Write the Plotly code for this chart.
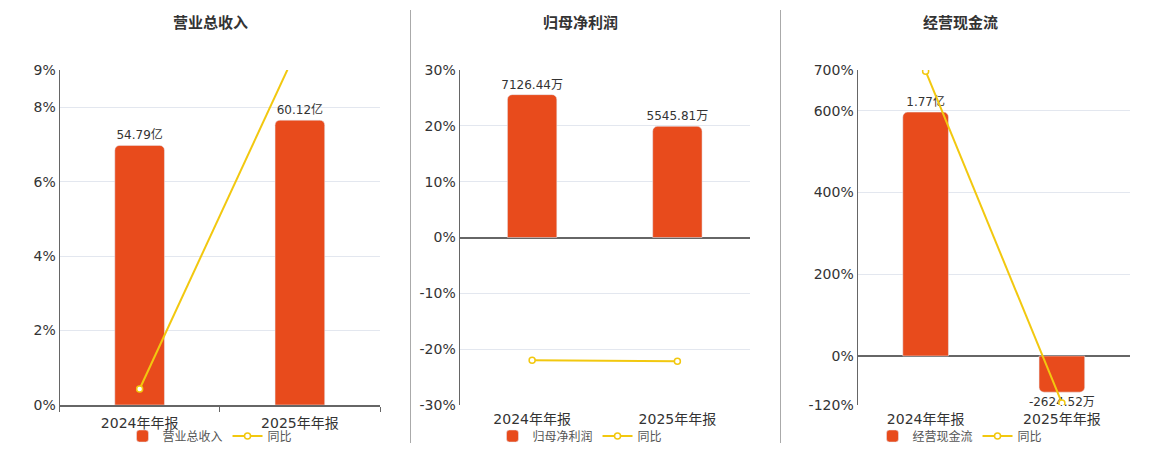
import plotly.graph_objects as go

# data
periods = ['2024年年报', '2025年年报']

revenue = [54.79, 60.12]            # 亿
revenue_labels = ['54.79亿', '60.12亿']
revenue_yoy = [0.43, 9.73]          # %

profit = [7126.44, 5545.81]         # 万
profit_labels = ['7126.44万', '5545.81万']
profit_yoy = [-22.0, -22.18]

cashflow = [1.77, -0.262452]        # 亿
cashflow_labels = ['1.77亿', '-2624.52万']
cashflow_yoy = [697.0, -114.8]

titles = ['营业总收入', '归母净利润', '经营现金流']
pct_ticks = [[0, 2, 4, 6, 8, 9], [-30, -20, -10, 0, 10, 20, 30], [-120, 0, 200, 400, 600, 700]]
pct_ranges = [[0, 9], [-30, 30], [-120, 700]]
bar_ranges = [[0, 70.7], [-8355, 8355], [-0.3558, 2.0755]]

BAR_COLOR = '#E84B1C'
LINE_COLOR = '#F2C80F'
FONT = 'DejaVu Sans, Noto Sans CJK SC, sans-serif'
W, H = 1160, 450

x_domains = [[59.5 / W, 380 / W], [459.5 / W, 750 / W], [857.5 / W, 1130 / W]]
y_domain = [1 - 405 / H, 1 - 70 / H]
title_x = [210, 580, 960]
bar_widths = [0.31, 0.34, 0.335]

fig = go.Figure()
layout = {}

panels = [
    (revenue, revenue_labels, revenue_yoy),
    (profit, profit_labels, profit_yoy),
    (cashflow, cashflow_labels, cashflow_yoy),
]

for i, (vals, labels, yoy) in enumerate(panels):
    n = i + 1
    xa = 'x' if n == 1 else f'x{n}'
    ya_bar = 'y' if n == 1 else f'y{n}'
    ya_pct = f'y{n + 3}'
    leg = 'legend' if n == 1 else f'legend{n}'

    fig.add_trace(go.Bar(
        x=periods, y=vals, name=titles[i], xaxis=xa, yaxis=ya_bar,
        marker=dict(color=BAR_COLOR, cornerradius=5),
        width=bar_widths[i],
        text=labels, textposition='outside', cliponaxis=False,
        constraintext='none',
        textfont=dict(size=12, color='#333'),
        legend=leg, hoverinfo='skip'
    ))
    fig.add_trace(go.Scatter(
        x=periods, y=yoy, name='同比', xaxis=xa, yaxis=ya_pct,
        mode='lines+markers',
        line=dict(color=LINE_COLOR, width=2),
        marker=dict(size=6, color='white', line=dict(color=LINE_COLOR, width=1.5)),
        legend=leg
    ))

    key = 'xaxis' if n == 1 else f'xaxis{n}'
    layout[key] = dict(
        domain=x_domains[i], anchor=ya_bar,
        type='category', categoryorder='array', categoryarray=periods,
        showline=(n == 1), linecolor='#666', linewidth=2,
        ticks='outside' if n == 1 else '', tickson='boundaries', ticklen=5,
        tickcolor='#666', showgrid=False, zeroline=False,
        tickfont=dict(size=14, color='#333'), ticklabelstandoff=4,
    )
    # hidden value axis for the bars; its zero line marks the 0% baseline
    layout['yaxis' if n == 1 else f'yaxis{n}'] = dict(
        domain=y_domain, anchor=xa, range=bar_ranges[i],
        showticklabels=False, showgrid=False, showline=False,
        zeroline=(n > 1), zerolinecolor='#666', zerolinewidth=2,
    )
    layout[f'yaxis{n + 3}'] = dict(
        domain=y_domain, anchor=xa, overlaying=ya_bar, side='left',
        range=pct_ranges[i], tickmode='array', tickvals=pct_ticks[i],
        ticktext=[f'{v}%' for v in pct_ticks[i]],
        showgrid=True, gridcolor='#e3e7ef', gridwidth=1,
        zeroline=False, showline=True, linecolor='#666', linewidth=1,
        tickfont=dict(size=14, color='#333'),
    )
    layout[leg] = dict(
        orientation='h', xref='container', yref='container',
        x=title_x[i] / W, xanchor='center',
        y=1 - 436 / H, yanchor='middle', font=dict(size=12, color='#555'),
        bgcolor='rgba(0,0,0,0)', itemwidth=30,
    )

annotations = [
    dict(text=f'<b>{t}</b>', x=title_x[i] / W, y=1 - 23 / H, xref='paper', yref='paper',
         showarrow=False, font=dict(size=15, color='#333'), xanchor='center', yanchor='middle')
    for i, t in enumerate(titles)
]
shapes = [
    dict(type='line', xref='paper', yref='paper', x0=sx / W, x1=sx / W,
         y0=1 - 443 / H, y1=1 - 10 / H, line=dict(color='#aaa', width=1))
    for sx in [410.5, 780.5]
]

fig.update_layout(
    **layout,
    width=W, height=H, autosize=False,
    margin=dict(l=0, r=0, t=0, b=0, autoexpand=False),
    paper_bgcolor='white', plot_bgcolor='white',
    font=dict(family=FONT, color='#333'),
    annotations=annotations, shapes=shapes,
)

reset_css = (
    "var s=document.createElement('style');"
    "s.textContent='html,body{margin:0;padding:0;overflow:hidden;}';"
    "document.head.appendChild(s);"
)
fig.write_html('out.html', config={'displayModeBar': False}, post_script=reset_css)
